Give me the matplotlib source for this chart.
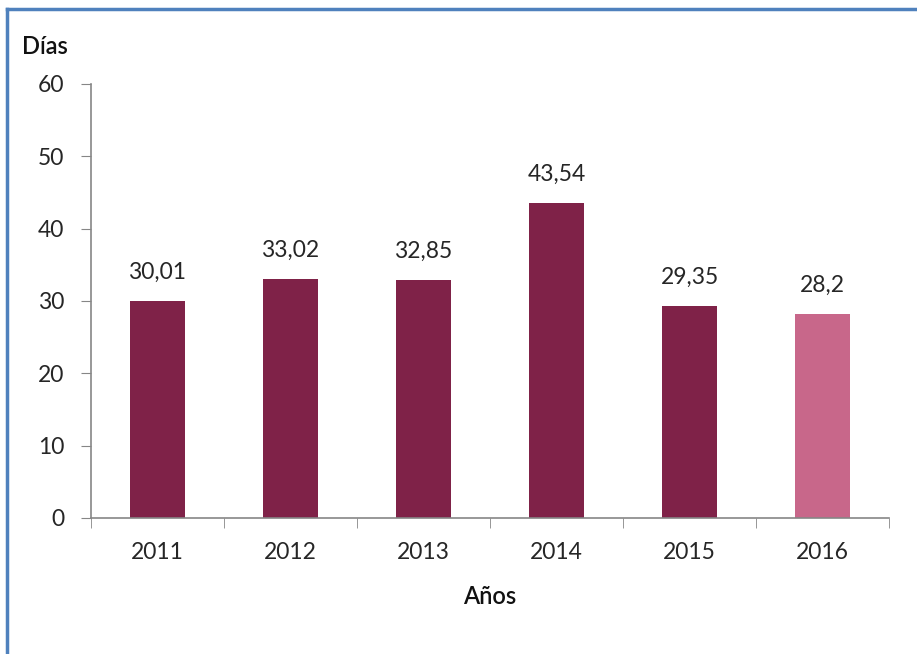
import matplotlib
matplotlib.use("Agg")
import matplotlib.pyplot as plt
from matplotlib.lines import Line2D

years = ["2011", "2012", "2013", "2014", "2015", "2016"]
dias = [30.01, 33.02, 32.85, 43.54, 29.35, 28.2]
labels = ["30,01", "33,02", "32,85", "43,54", "29,35", "28,2"]
colors = ["#7F2248"] * 5 + ["#C8678A"]

plt.rcParams['font.family'] = ['Lato', 'DejaVu Sans']

fig = plt.figure(figsize=(9.17, 6.54), dpi=100)
ax = fig.add_axes([0.0992, 0.208, 0.8703, 0.6636])

x = range(len(years))
ax.bar(x, dias, width=0.41, color=colors)
for i, v in enumerate(dias):
    ax.text(i, v + 2.5, labels[i], ha="center", va="bottom", fontsize=16.5, color="#262626")

ax.set_xlim(-0.5, len(years) - 0.5)
ax.set_ylim(0, 60)
ax.set_yticks(range(0, 61, 10))
ax.set_xticks(list(x))
ax.set_xticklabels(years)
ax.tick_params(axis="x", length=0, labelsize=16.5, pad=17, colors="#262626")
ax.tick_params(axis="y", length=7, labelsize=16.5, pad=12, colors="#262626")
ax.tick_params(axis="y", color="#868686")
# category boundary ticks
ax.set_xticks([i - 0.5 for i in range(len(years) + 1)], minor=True)
ax.tick_params(axis="x", which="minor", length=7, color="#868686")

for s in ["top", "right"]:
    ax.spines[s].set_visible(False)
for s in ["left", "bottom"]:
    ax.spines[s].set_color("#868686")
    ax.spines[s].set_linewidth(1.2)

ax.set_xlabel("Años", fontsize=17, fontweight="semibold", labelpad=16, color="#111111")
fig.text(0.024, 0.912, "Días", fontsize=17, fontweight="semibold", color="#111111", ha="left", va="bottom")

# blue frame on top and left
fig.add_artist(Line2D([0.008, 1.0], [0.986, 0.986], transform=fig.transFigure, color="#4F81BD", lw=2.5))
fig.add_artist(Line2D([0.008, 0.008], [0.0, 0.986], transform=fig.transFigure, color="#4F81BD", lw=2.5))

fig.savefig("out.png", dpi=100)
